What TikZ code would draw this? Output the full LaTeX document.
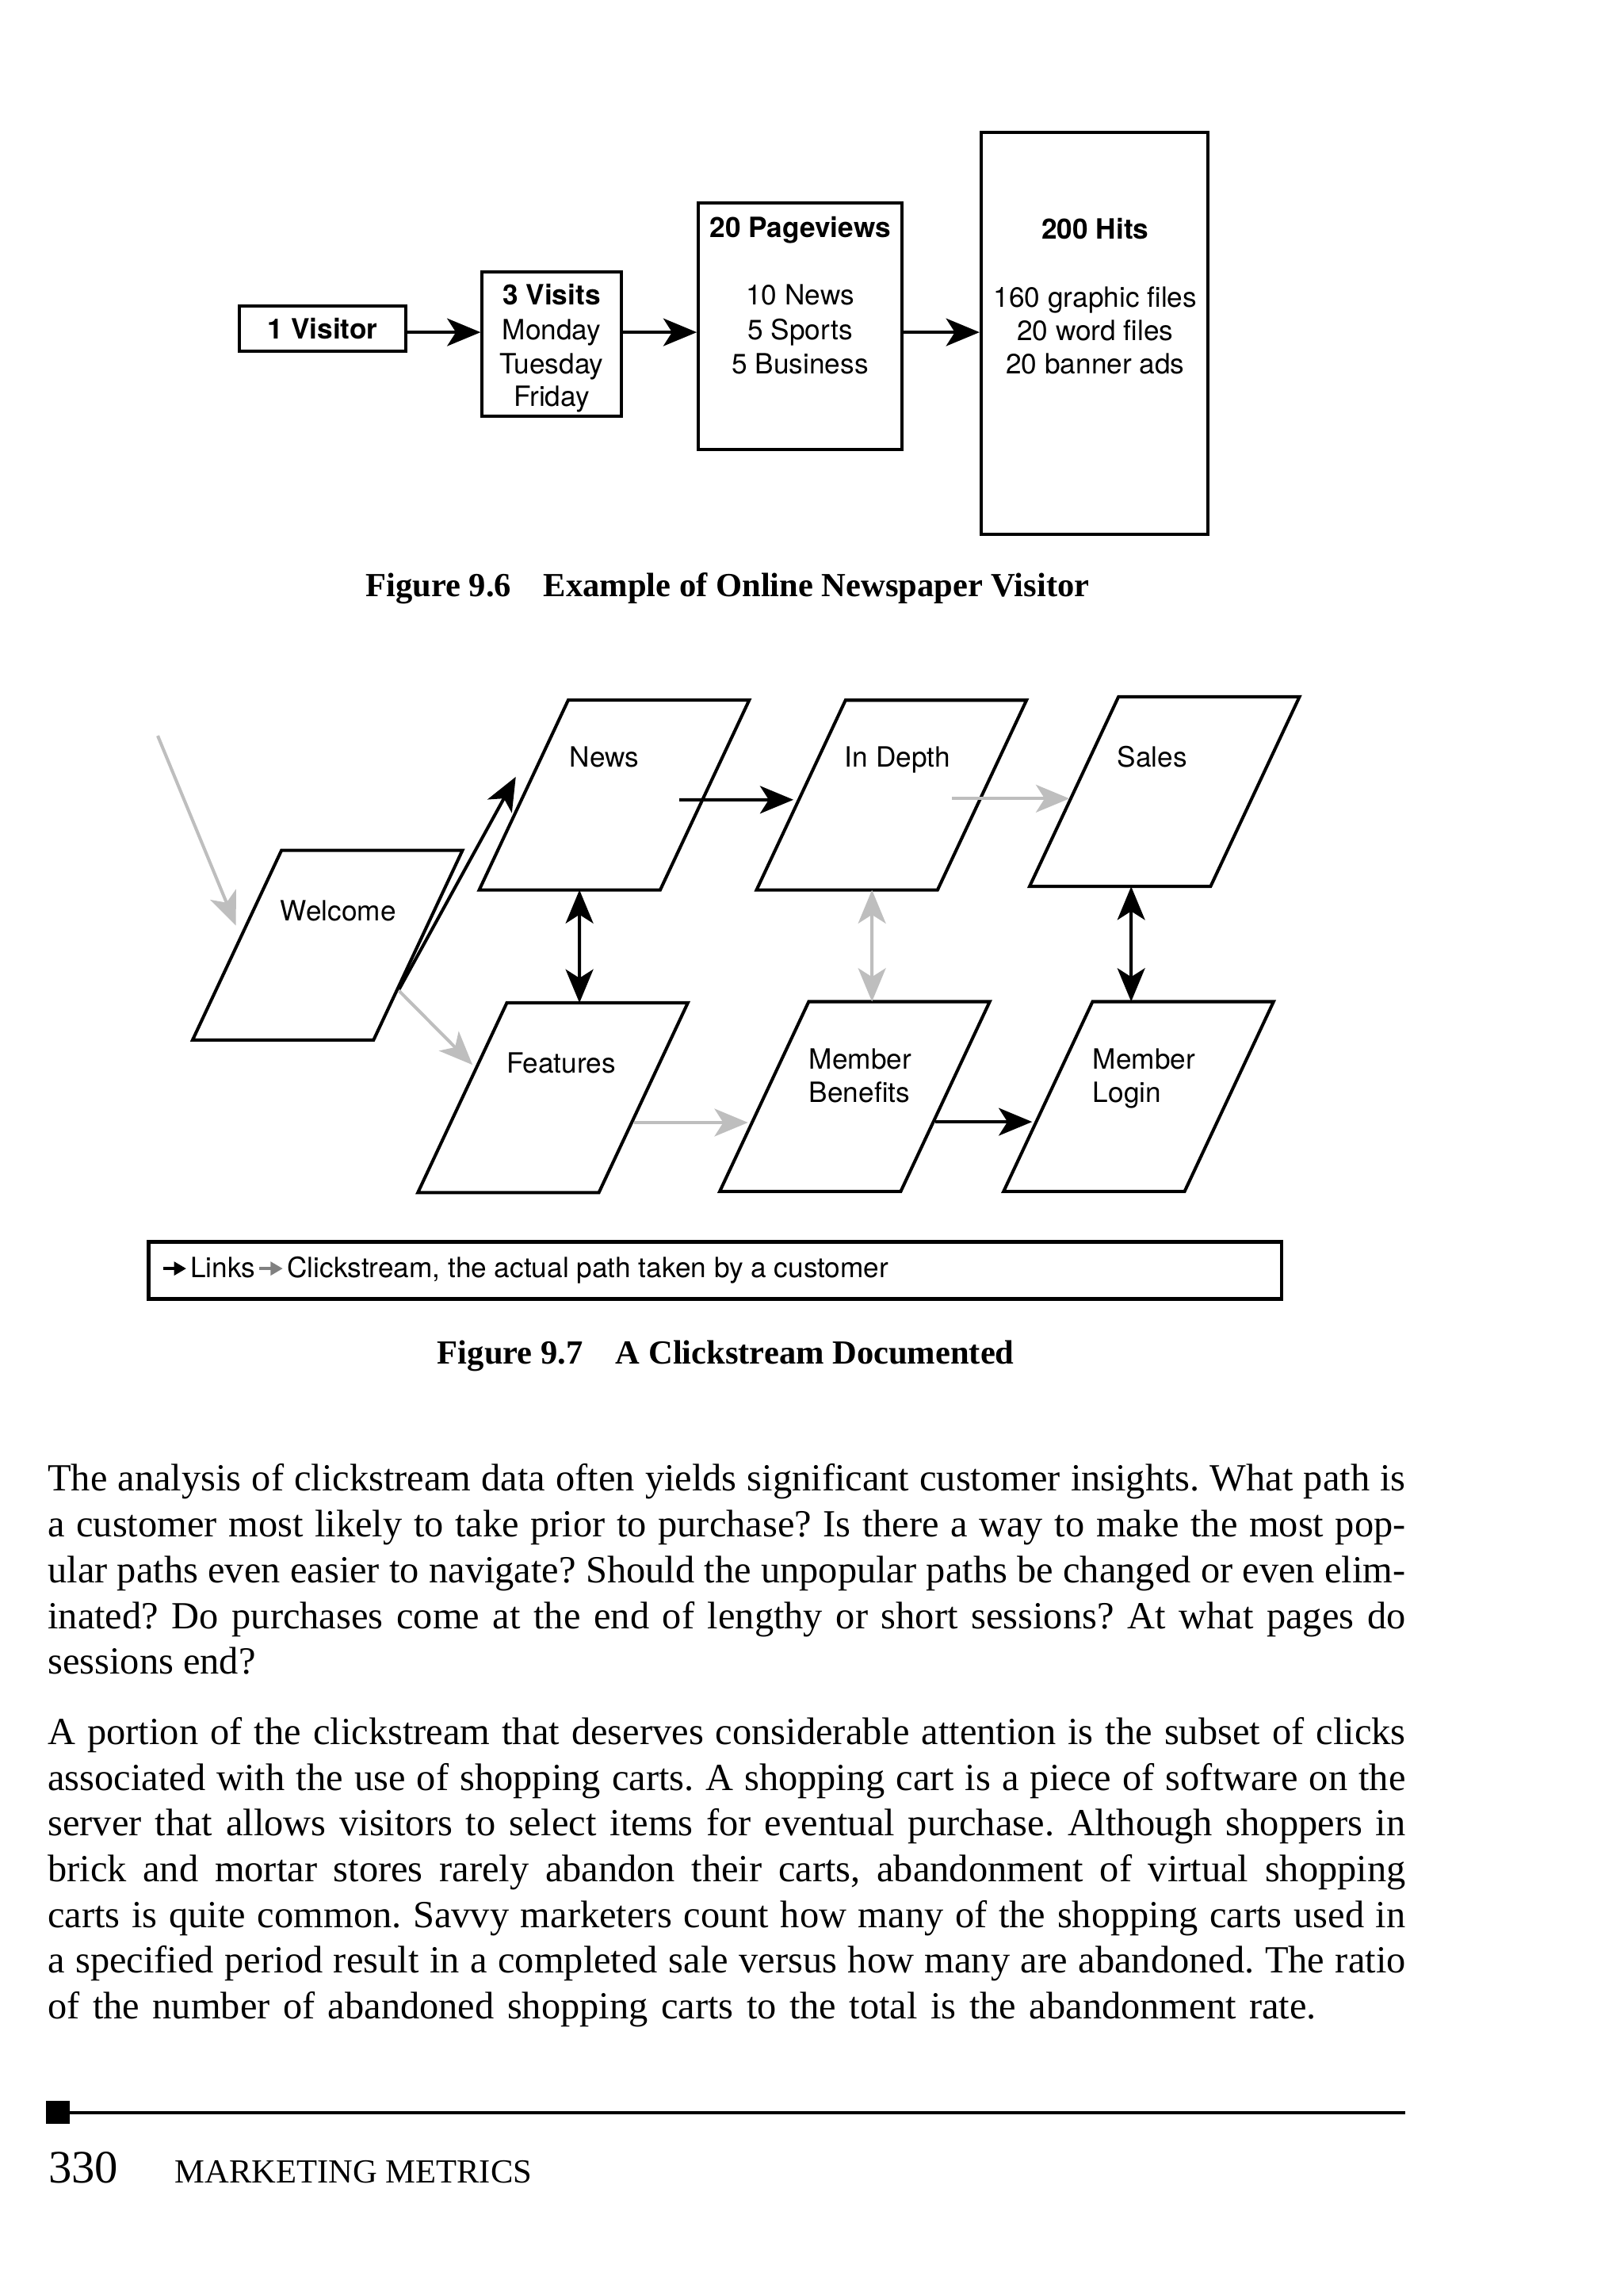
\documentclass[tikz,border=0pt]{standalone}
\usepackage{fontspec}
\setmainfont{Liberation Serif}
\newfontfamily\heros{TeX Gyre Heros}
\usetikzlibrary{arrows.meta,calc}
\definecolor{lgray}{RGB}{190,190,190}
\definecolor{mgray}{RGB}{128,128,128}
\frenchspacing
\newcommand\jline[1]{\makebox[467pt][s]{#1}}
\newcommand\drawpage[1]{\draw[pgline] ($(#1.center)+(-31.65,-65.25)$) -- ($(#1.center)+(92.85,-65.25)$) -- ($(#1.center)+(31.65,65.25)$) -- ($(#1.center)+(-92.85,65.25)$) -- cycle;}
\begin{document}
\begin{tikzpicture}[x=0.5pt,y=-0.5pt,
  sf/.style={font=\heros\fontsize{9.6}{11.65}\selectfont},
  sfb/.style={font=\heros\bfseries\fontsize{9.6}{11.65}\selectfont},
  lbl/.style={sf, inner sep=0pt, anchor=base},
  lblb/.style={sfb, inner sep=0pt, anchor=base},
  fbox/.style={draw, line width=1.1pt, inner sep=0pt},
  pgn/.style={inner sep=0pt, minimum width=62.25pt, minimum height=65.25pt},
  pgline/.style={line width=1.1pt, line join=miter},
  tipa/.tip={Stealth[length=11.5pt, width=9.5pt, inset=3pt]},
  arr/.style={line width=1.1pt, -tipa},
  darr/.style={line width=1.1pt, tipa-tipa},
  smallarr/.style={line width=0.95pt, -{Triangle[length=4.2pt, width=4.6pt]}},
  bodytext/.style={font=\fontsize{13.2}{15.7}\selectfont, inner sep=0pt, anchor=base west},
  figcap/.style={font=\bfseries\fontsize{11.6}{13}\selectfont, inner sep=0pt, anchor=base west}]
\fill[white] (0,0) rectangle (1116.6,1568);
\useasboundingbox (0,0) rectangle (1116.6,1568);

% ---------- Figure 9.6 ----------
\node[fbox, minimum width=57.4pt, minimum height=15.45pt] (visitor) at (222,225.95) {};
\node[lblb] (tvisitor) at (222,233.2) {1 Visitor};

\node[fbox, minimum width=47.75pt, minimum height=49.55pt] (visits) at (379.45,236.75) {};
\node[lblb] (tvisits1) at (379.45,209.6) {3 Visits};
\node[lbl] (tvisits2) at (379.45,233.6) {Monday};
\node[lbl] (tvisits3) at (379.45,256.8) {Tuesday};
\node[lbl] (tvisits4) at (379.45,279.5) {Friday};

\node[fbox, minimum width=70.05pt, minimum height=84.7pt] (pviews) at (550.45,224.3) {};
\node[lblb] (tpv1) at (550.45,163.2) {20 Pageviews};
\node[lbl] (tpv2) at (550.45,209.6) {10 News};
\node[lbl] (tpv3) at (550.45,233.6) {5 Sports};
\node[lbl] (tpv4) at (550.45,256.8) {5 Business};

\node[fbox, minimum width=78.05pt, minimum height=138.2pt] (hits) at (752.95,229.5) {};
\node[lblb] (th1) at (753.4,164.2) {200 Hits};
\node[lbl] (th2) at (753.4,211.1) {160 graphic files};
\node[lbl] (th3) at (753.4,234.1) {20 word files};
\node[lbl] (th4) at (753.4,257) {20 banner ads};

\coordinate (ay) at (0,228.5);
\draw[arr] (visitor.east |- ay) -- (visits.west |- ay);
\draw[arr] (visits.east |- ay) -- (pviews.west |- ay);
\draw[arr] (pviews.east |- ay) -- (hits.west |- ay);

\node[figcap] (c96a) at (251.2,410.4) {Figure 9.6};
\node[figcap] (c96b) at (373.5,410.4) {Example of Online Newspaper Visitor};

% ---------- Figure 9.7 ----------
\node[pgn] (W) at (225.3,650) {};
\node[pgn] (N) at (422.5,546.75) {};
\node[pgn] (F) at (380.3,754.9) {};
\node[pgn] (I) at (613.25,546.8) {};
\node[pgn] (S) at (801.05,544.4) {};
\node[pgn] (MB) at (587.95,754.1) {};
\node[pgn] (ML) at (783.2,754.1) {};
\drawpage{W}
\drawpage{N}
\drawpage{F}
\drawpage{I}
\drawpage{S}
\drawpage{MB}
\drawpage{ML}

\node[lbl] (lwelcome) at (232.7,633.5) {Welcome};
\node[lbl] (lnews) at (415.8,527.4) {News};
\node[lbl] (lfeat) at (386,737.9) {Features};
\node[lbl] (lindepth) at (617.3,527.6) {In Depth};
\node[lbl] (lsales) at (792.6,527.6) {Sales};
\node[lbl, anchor=base west] (lmb1) at (556.2,735.1) {Member};
\node[lbl, anchor=base west] (lmb2) at (556.2,758.2) {Benefits};
\node[lbl, anchor=base west] (lml1) at (751.4,735.1) {Member};
\node[lbl, anchor=base west] (lml2) at (751.4,758.2) {Login};

\coordinate (entry) at (108.5,506);
\draw[arr, lgray] (entry) -- ($(W.center)+(-63,-13.5)$);
\draw[arr] ($(W.center)+(49.1,30.6)$) -- ($(N.center)+(-67.7,-12.55)$);
\draw[arr, lgray] ($(W.center)+(49.1,31.3)$) -- ($(F.center)+(-55.3,-22.6)$);
\draw[darr] ($(N.center)+(-23.9,65.25)$) -- ($(F.center)+(18.3,-65.25)$);
\draw[arr] ($(N.center)+(44.8,3.25)$) -- ($(I.center)+(-67.45,3.2)$);
\draw[arr, lgray] ($(I.center)+(41.65,2.4)$) -- ($(S.center)+(-65.45,4.8)$);
\draw[darr, lgray] ($(I.center)+(-13.45,65.25)$) -- ($(MB.center)+(11.85,-65.25)$);
\draw[darr] ($(S.center)+(-22.95,65.25)$) -- ($(ML.center)+(-5.1,-65.25)$);
\draw[arr, lgray] ($(F.center)+(55.7,17.1)$) -- ($(MB.center)+(-73.45,17.9)$);
\draw[arr] ($(MB.center)+(55.25,17.4)$) -- ($(ML.center)+(-73.2,17.4)$);

% legend
\node[draw, line width=1.3pt, minimum width=389.65pt, minimum height=19.55pt, inner sep=0pt] (legend) at (491.95,873.75) {};
\draw[smallarr] (112.3,872.4) -- (128.1,872.4);
\node[lbl, anchor=base west] (llinks) at (130.5,878.8) {Links};
\draw[smallarr, mgray] (178.1,872.4) -- (194.5,872.4);
\node[lbl, anchor=base west] (lclick) at (197.2,878.8) {Clickstream, the actual path taken by a customer};

\node[figcap] (c97a) at (300.5,937.8) {Figure 9.7};
\node[figcap] (c97b) at (423.2,937.8) {A Clickstream Documented};

% ---------- body text ----------
\node[bodytext] (p1a) at (32.5,1025.5) {\jline{The analysis of clickstream data often yields significant customer insights. What path is}};
\node[bodytext] (p1b) at (32.5,1056.95) {\jline{a customer most likely to take prior to purchase? Is there a way to make the most pop-}};
\node[bodytext] (p1c) at (32.5,1088.4) {\jline{ular paths even easier to navigate? Should the unpopular paths be changed or even elim-}};
\node[bodytext] (p1d) at (32.5,1119.85) {\jline{inated? Do purchases come at the end of lengthy or short sessions? At what pages do}};
\node[bodytext] (p1e) at (32.5,1151.3) {sessions end?};

\node[bodytext] (p2a) at (32.5,1199.8) {\jline{A portion of the clickstream that deserves considerable attention is the subset of clicks}};
\node[bodytext] (p2b) at (32.5,1231.2) {\jline{associated with the use of shopping carts. A shopping cart is a piece of software on the}};
\node[bodytext] (p2c) at (32.5,1262.6) {\jline{server that allows visitors to select items for eventual purchase. Although shoppers in}};
\node[bodytext] (p2d) at (32.5,1294) {\jline{brick and mortar stores rarely abandon their carts, abandonment of virtual shopping}};
\node[bodytext] (p2e) at (32.5,1325.4) {\jline{carts is quite common. Savvy marketers count how many of the shopping carts used in}};
\node[bodytext] (p2f) at (32.5,1356.8) {\jline{a specified period result in a completed sale versus how many are abandoned. The ratio}};
\node[bodytext] (p2g) at (32.5,1388.2) {\makebox[436.25pt][s]{of the number of abandoned shopping carts to the total is the abandonment rate.}};

% ---------- footer ----------
\fill (31.8,1445) rectangle (47.8,1460.7);
\draw[line width=1pt] (47.8,1453) -- (966.5,1453);
\node[font=\fontsize{16}{18}\selectfont, inner sep=0pt, anchor=base west] (pnum) at (33,1501) {330};
\node[font=\fontsize{11.6}{13}\selectfont, inner sep=0pt, anchor=base west] (runhead) at (120,1501) {MARKETING METRICS};
\end{tikzpicture}
\end{document}
